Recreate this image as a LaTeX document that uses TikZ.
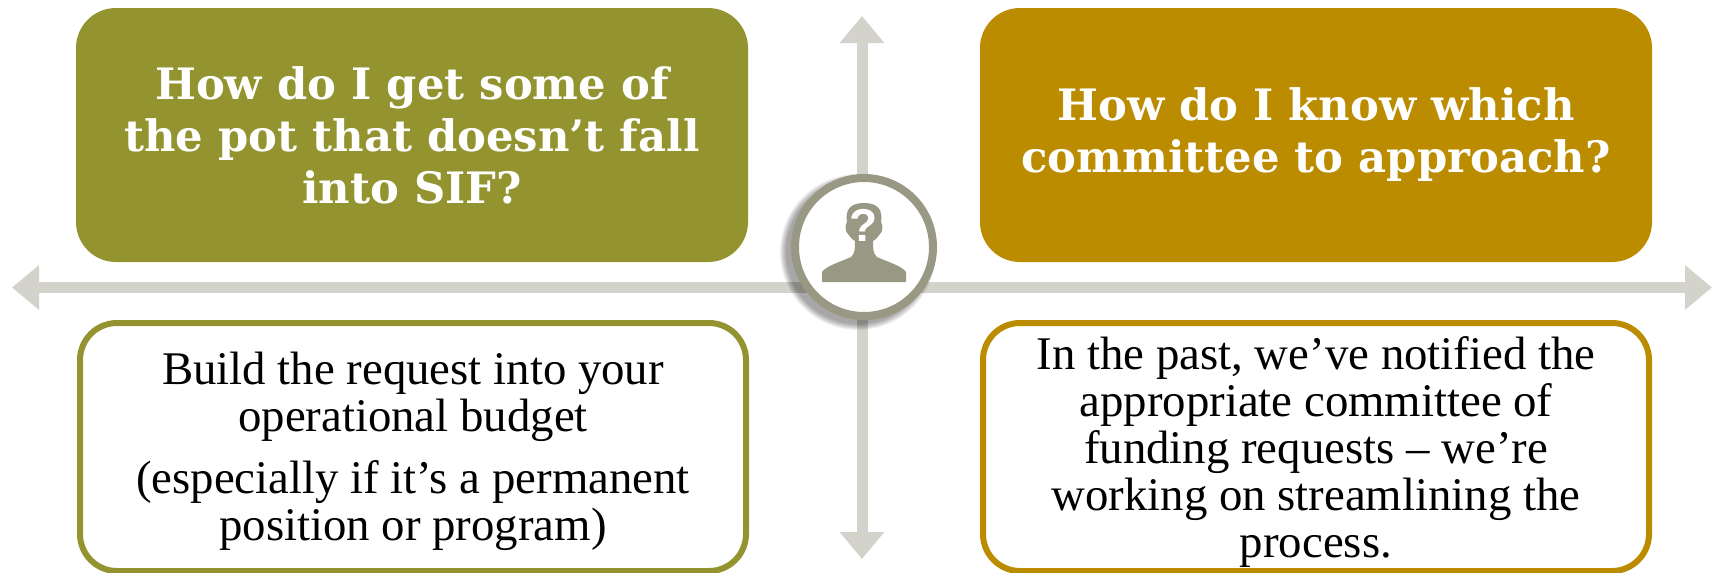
\documentclass[tikz,border=0pt]{standalone}
\usepackage{fontspec}
\setmainfont{Liberation Serif}
\newfontfamily\headfont{DejaVu Serif}
\newfontfamily\markfont{Liberation Sans}
\usetikzlibrary{arrows.meta}
\definecolor{olivebox}{HTML}{93932F}
\definecolor{goldbox}{HTML}{BB8C00}
\definecolor{axisgrey}{HTML}{D3D3CC}
\definecolor{ringgrey}{HTML}{999884}
\newcommand{\firstline}{\rule{0pt}{42pt}}
\tikzset{
  axis/.style={draw=axisgrey,line width=11pt,{Triangle[length=27pt,width=43pt]}-{Triangle[length=27pt,width=43pt]}},
  question/.style={rectangle,rounded corners=40pt,minimum width=672pt,minimum height=254pt,inner sep=0pt,
    text=white,align=center,font=\headfont\bfseries\fontsize{43.3}{52}\selectfont},
  answer/.style={rectangle,rounded corners=37pt,fill=white,line width=6pt,minimum width=666pt,minimum height=248pt,inner sep=0pt,
    text=black,align=center,font=\fontsize{46.8}{47}\selectfont}
}
\begin{document}
\begin{tikzpicture}[x=1pt,y=-1pt]
      \useasboundingbox (0,0) rectangle (1717,573);
      \coordinate (west) at (12,287.5);
      \coordinate (east) at (1712,287.5);
      \coordinate (north) at (862,16);
      \coordinate (south) at (862,559);
      \begin{scope}
        \draw[axis] (west) to (east);
        \draw[axis] (north) to (south);
      \end{scope}
      \node[question,fill=olivebox] (ask1) at (412,135) {How do I get some of\\the pot that doesn’t fall\\into SIF?};
      \node[question,fill=goldbox] (ask2) at (1316,135) {How do I know which\\committee to approach?};
      \node[answer,draw=olivebox] (reply1) at (413,447) {\firstline Build the request into your\\operational budget\\[15pt](especially if it’s a permanent\\position or program)};
      \node[answer,draw=goldbox] (reply2) at (1316,447) {\firstline In the past, we’ve notified the\\appropriate committee of\\funding requests – we’re\\working on streamlining the\\process.};
      % soft shadow under the ring
      \foreach \r in {78,77,76,75,74,73,72}
        \fill[black,opacity=0.06] (858,252) circle (\r pt);
      \node[circle,fill=white,draw=ringgrey,line width=8pt,minimum size=138pt,inner sep=0pt] (ring) at (864,247) {};
      \fill[ringgrey] (822,282) -- (822,272) .. controls (826,266) and (840,262) .. (851,257)
        .. controls (855,254) and (855,248) .. (855,241) .. controls (851,239) and (850,236) .. (848,234)
        .. controls (845,232) and (845,224) .. (847,222) .. controls (845,210) and (850,203) .. (864,203)
        .. controls (878,203) and (883,210) .. (881,222) .. controls (883,224) and (883,232) .. (880,234)
        .. controls (878,236) and (877,239) .. (873,241) .. controls (873,248) and (873,254) .. (877,257)
        .. controls (888,262) and (902,266) .. (906,272) -- (906,282) -- cycle;
      \node[text=white,inner sep=0pt,font=\markfont\bfseries\fontsize{46}{46}\selectfont] (mark) at (864,225) {?};
\end{tikzpicture}
\end{document}
